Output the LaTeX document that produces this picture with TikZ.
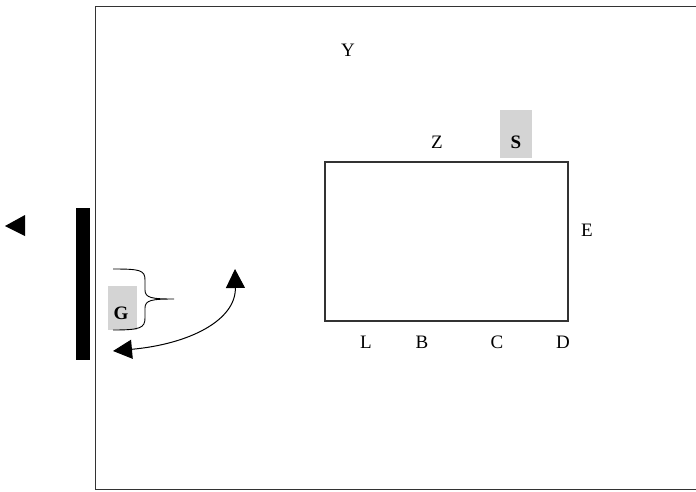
\documentclass[tikz,border=0pt]{standalone}
\usepackage{fontspec}
\setmainfont{Liberation Serif}
\usetikzlibrary{arrows.meta}
\begin{document}
\begin{tikzpicture}[x=1pt,y=-1pt,
  lbl/.style={inner sep=0pt,font=\fontsize{19}{21}\selectfont},
  boldlbl/.style={lbl,font=\fontsize{19}{21}\selectfont\bfseries},
  bigtip/.style={{Triangle[length=19pt,width=19pt]}-{Triangle[length=19pt,width=19pt]}}]
\useasboundingbox (0,0) rectangle (696,491);
% outer frame
\draw[line width=1pt,black!80] (696,6) -- (95,6) -- (95,489) -- (696,489);
% wall bar and pointer
\fill (76,208) rectangle (90,360);
\fill (5,226) -- (25,215) -- (25,236) -- cycle;
% main box
\draw[line width=1.1pt,black!80] (325,162) rectangle (568,321);
% shaded tags
\fill[black!17] (500,110) rectangle (532,158);
\fill[black!17] (108,286) rectangle (137,330);
% labels
\node[lbl] (Y) at (348,50) {Y};
\node[lbl] (Z) at (437,142) {Z};
\node[boldlbl] (S) at (516,142) {S};
\node[lbl] (E) at (587,230) {E};
\node[lbl] (L) at (366,342) {L};
\node[lbl] (B) at (422,342) {B};
\node[lbl] (C) at (497,342) {C};
\node[lbl] (D) at (563,342) {D};
\node[boldlbl] (G) at (121,313) {G};
% brace
\draw[line width=0.9pt] (113,269) .. controls (140,269) and (145,270) .. (145,280)
  -- (145,290) .. controls (145,298) and (152,299) .. (174,299)
  .. controls (152,299) and (145,300) .. (145,308)
  -- (145,318) .. controls (145,328) and (140,330) .. (113,330);
% curved double arrow
\coordinate (a1) at (113,351);
\coordinate (a2) at (235,269);
\draw[line width=1pt,bigtip] (a1) .. controls (190,344) and (236,320) .. (a2);
\end{tikzpicture}
\end{document}
